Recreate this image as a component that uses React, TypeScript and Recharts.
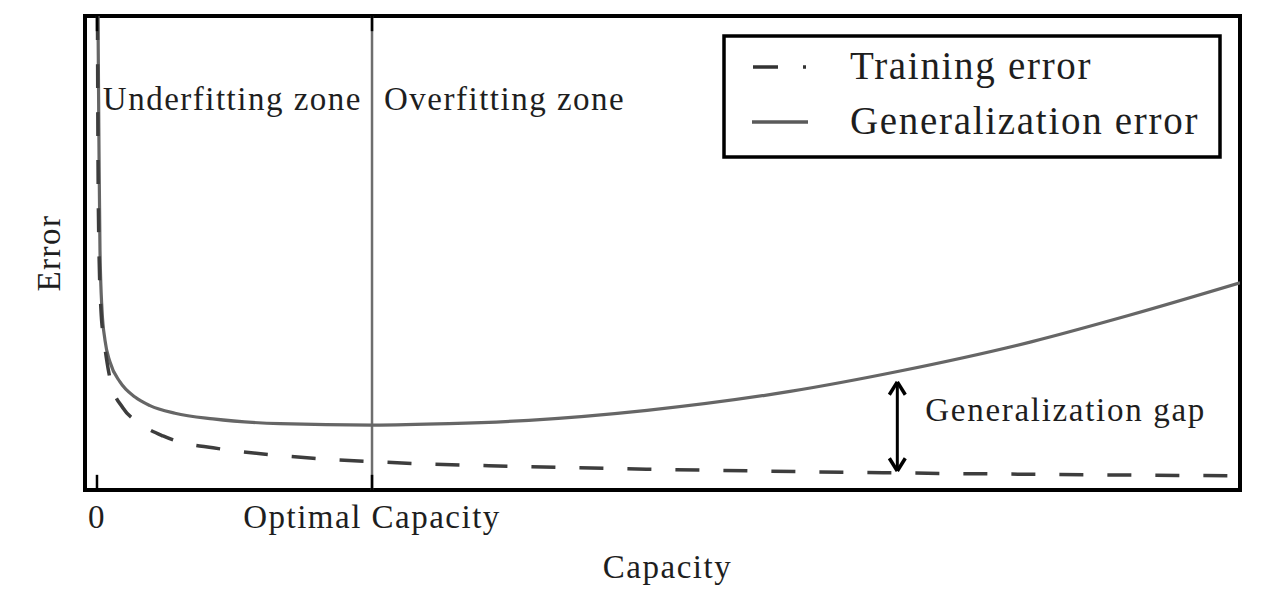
import React from 'react';
import { LineChart, Line, XAxis, YAxis, ReferenceLine, ReferenceArea, Legend } from 'recharts';

const FONT = "'Liberation Serif', 'DejaVu Serif', serif";
const TEXT = '#1e1e1e';

// Axis / ticks
const capacityTicks = [0, 1];
const capacityTickLabels = ['0', 'Optimal Capacity'];
const xTitle = 'Capacity';
const yTitle = 'Error';
const xDomain = [-0.0436, 4.156];
const yDomain = [0, 10];
const optimalCapacity = 1;

// Series
const seriesNames = ['Training error', 'Generalization error'];
const zoneLabels = ['Underfitting zone', 'Overfitting zone'];
const gapLabel = 'Generalization gap';

const trainingError = [
  { x: 0.0018, y: 10.0 },
  { x: 0.0036, y: 7.17 },
  { x: 0.0073, y: 5.06 },
  { x: 0.0145, y: 3.8 },
  { x: 0.0255, y: 3.16 },
  { x: 0.0364, y: 2.7 },
  { x: 0.0509, y: 2.26 },
  { x: 0.0945, y: 1.73 },
  { x: 0.1491, y: 1.43 },
  { x: 0.24, y: 1.14 },
  { x: 0.3018, y: 1.01 },
  { x: 0.4218, y: 0.89 },
  { x: 0.6036, y: 0.76 },
  { x: 0.7855, y: 0.67 },
  { x: 1.0, y: 0.6 },
  { x: 1.149, y: 0.56 },
  { x: 1.513, y: 0.5 },
  { x: 2.193, y: 0.42 },
  { x: 2.92, y: 0.36 },
  { x: 3.647, y: 0.32 },
  { x: 4.156, y: 0.3 },
];

const generalizationError = [
  { x: 0.0036, y: 10.0 },
  { x: 0.0073, y: 7.17 },
  { x: 0.0109, y: 5.06 },
  { x: 0.0182, y: 3.8 },
  { x: 0.0291, y: 3.16 },
  { x: 0.0473, y: 2.7 },
  { x: 0.0836, y: 2.28 },
  { x: 0.1382, y: 1.96 },
  { x: 0.1927, y: 1.78 },
  { x: 0.2836, y: 1.62 },
  { x: 0.4218, y: 1.5 },
  { x: 0.6655, y: 1.4 },
  { x: 1.0, y: 1.37 },
  { x: 1.28, y: 1.4 },
  { x: 1.57, y: 1.47 },
  { x: 2.0, y: 1.68 },
  { x: 2.52, y: 2.08 },
  { x: 2.92, y: 2.51 },
  { x: 3.4, y: 3.13 },
  { x: 3.75, y: 3.68 },
  { x: 4.156, y: 4.37 },
];

// Generalization gap arrow (data units)
const gapArrow = { x: 2.91, from: 0.4, to: 2.28 };
const arrowHead = { halfWidth: 0.029, length: 0.27 };
const tickLength = 0.32;

const textStyle = (size: number, spacing: number) => ({ fontFamily: FONT, fontSize: size, letterSpacing: spacing, fill: TEXT });

const CapacityTick = (props: any) => {
  const { x, y, payload } = props;
  const i = capacityTicks.indexOf(payload.value);
  return (
    <text x={x} y={y + 38} textAnchor="middle" style={textStyle(33, 1.5)}>
      {capacityTickLabels[i]}
    </text>
  );
};

const XTitle = (props: any) => {
  const vb = props.viewBox;
  return (
    <text x={vb.x + vb.width / 2 + 5} y={vb.y + 88} textAnchor="middle" style={textStyle(33, 1.5)}>
      {xTitle}
    </text>
  );
};

const YTitle = (props: any) => {
  const vb = props.viewBox;
  const cx = vb.x + 60;
  const cy = vb.y + vb.height / 2;
  return (
    <text x={cx} y={cy} transform={`rotate(-90, ${cx}, ${cy})`} textAnchor="middle" style={textStyle(33, 1.5)}>
      {yTitle}
    </text>
  );
};

const ZoneLabels = (props: any) => {
  const vb = props.viewBox;
  return (
    <g>
      <text x={vb.x - 10} y={vb.y + 94} textAnchor="end" style={textStyle(33, 1.5)}>
        {zoneLabels[0]}
      </text>
      <text x={vb.x + 12} y={vb.y + 94} textAnchor="start" style={textStyle(33, 1.5)}>
        {zoneLabels[1]}
      </text>
    </g>
  );
};

const GapLabel = (props: any) => {
  const vb = props.viewBox;
  return (
    <text x={vb.x + 28} y={vb.y + 37} textAnchor="start" style={textStyle(33, 1.7)}>
      {gapLabel}
    </text>
  );
};

const LegendBox = () => (
  <svg width={500} height={125} style={{ display: 'block' }}>
    <rect x={2} y={2} width={496} height={121} fill="#fff" stroke="#000" strokeWidth={3.5} />
    <line x1={31} x2={84} y1={33} y2={33} stroke="#333" strokeWidth={3.5} strokeDasharray="25 25 3 60" />
    <line x1={30} x2={86} y1={88} y2={88} stroke="#5a5a5a" strokeWidth={3.5} />
    <text x={128} y={45} style={textStyle(39, 1.7)}>
      {seriesNames[0]}
    </text>
    <text x={128} y={100} style={textStyle(39, 1.7)}>
      {seriesNames[1]}
    </text>
  </svg>
);

export default function App() {
  const hw = arrowHead.halfWidth;
  const hl = arrowHead.length;
  return (
    <div style={{ position: 'absolute', left: 0, top: 0, width: 1275, height: 591, background: '#fff' }}>
      <LineChart width={1275} height={591} margin={{ top: 16, right: 35, bottom: 0, left: 0 }}>
        <XAxis
          type="number"
          dataKey="x"
          domain={xDomain}
          ticks={capacityTicks}
          allowDataOverflow
          height={101}
          tickLine={false}
          axisLine={false}
          tickSize={0}
          tickMargin={0}
          tick={<CapacityTick />}
          interval={0}
          label={<XTitle />}
        />
        <YAxis
          type="number"
          domain={yDomain}
          allowDataOverflow
          width={85}
          tick={false}
          tickLine={false}
          axisLine={false}
          label={<YTitle />}
        />
        <ReferenceLine x={optimalCapacity} stroke="#6e6e6e" strokeWidth={2.5} label={<ZoneLabels />} />
        <Line
          data={generalizationError}
          dataKey="y"
          name={seriesNames[1]}
          type="monotone"
          stroke="#666"
          strokeWidth={3.2}
          dot={false}
          activeDot={false}
          isAnimationActive={false}
        />
        <Line
          data={trainingError}
          dataKey="y"
          name={seriesNames[0]}
          type="monotone"
          stroke="#3d3d3d"
          strokeWidth={3.5}
          strokeDasharray="24 24"
          dot={false}
          activeDot={false}
          isAnimationActive={false}
        />
        {capacityTicks.map((t) => (
          <ReferenceLine key={`b${t}`} segment={[{ x: t, y: yDomain[0] }, { x: t, y: yDomain[0] + tickLength }]} stroke="#000" strokeWidth={2.5} />
        ))}
        {capacityTicks.map((t) => (
          <ReferenceLine key={`t${t}`} segment={[{ x: t, y: yDomain[1] }, { x: t, y: yDomain[1] - tickLength }]} stroke="#000" strokeWidth={2.5} />
        ))}
        <ReferenceLine
          segment={[{ x: gapArrow.x, y: gapArrow.from + 0.05 }, { x: gapArrow.x, y: gapArrow.to - 0.05 }]}
          stroke="#000"
          strokeWidth={3}
          label={<GapLabel />}
        />
        <ReferenceLine segment={[{ x: gapArrow.x - hw, y: gapArrow.to - hl }, { x: gapArrow.x, y: gapArrow.to }]} stroke="#000" strokeWidth={3.5} />
        <ReferenceLine segment={[{ x: gapArrow.x + hw, y: gapArrow.to - hl }, { x: gapArrow.x, y: gapArrow.to }]} stroke="#000" strokeWidth={3.5} />
        <ReferenceLine segment={[{ x: gapArrow.x - hw, y: gapArrow.from + hl }, { x: gapArrow.x, y: gapArrow.from }]} stroke="#000" strokeWidth={3.5} />
        <ReferenceLine segment={[{ x: gapArrow.x + hw, y: gapArrow.from + hl }, { x: gapArrow.x, y: gapArrow.from }]} stroke="#000" strokeWidth={3.5} />
        <ReferenceArea x1={xDomain[0]} x2={xDomain[1]} y1={yDomain[0]} y2={yDomain[1]} fill="none" stroke="#000" strokeWidth={4} />
        <Legend
          layout="horizontal"
          verticalAlign="middle"
          align="center"
          wrapperStyle={{ left: 722, top: 34, width: 500, height: 125 }}
          content={<LegendBox />}
        />
      </LineChart>
    </div>
  );
}
